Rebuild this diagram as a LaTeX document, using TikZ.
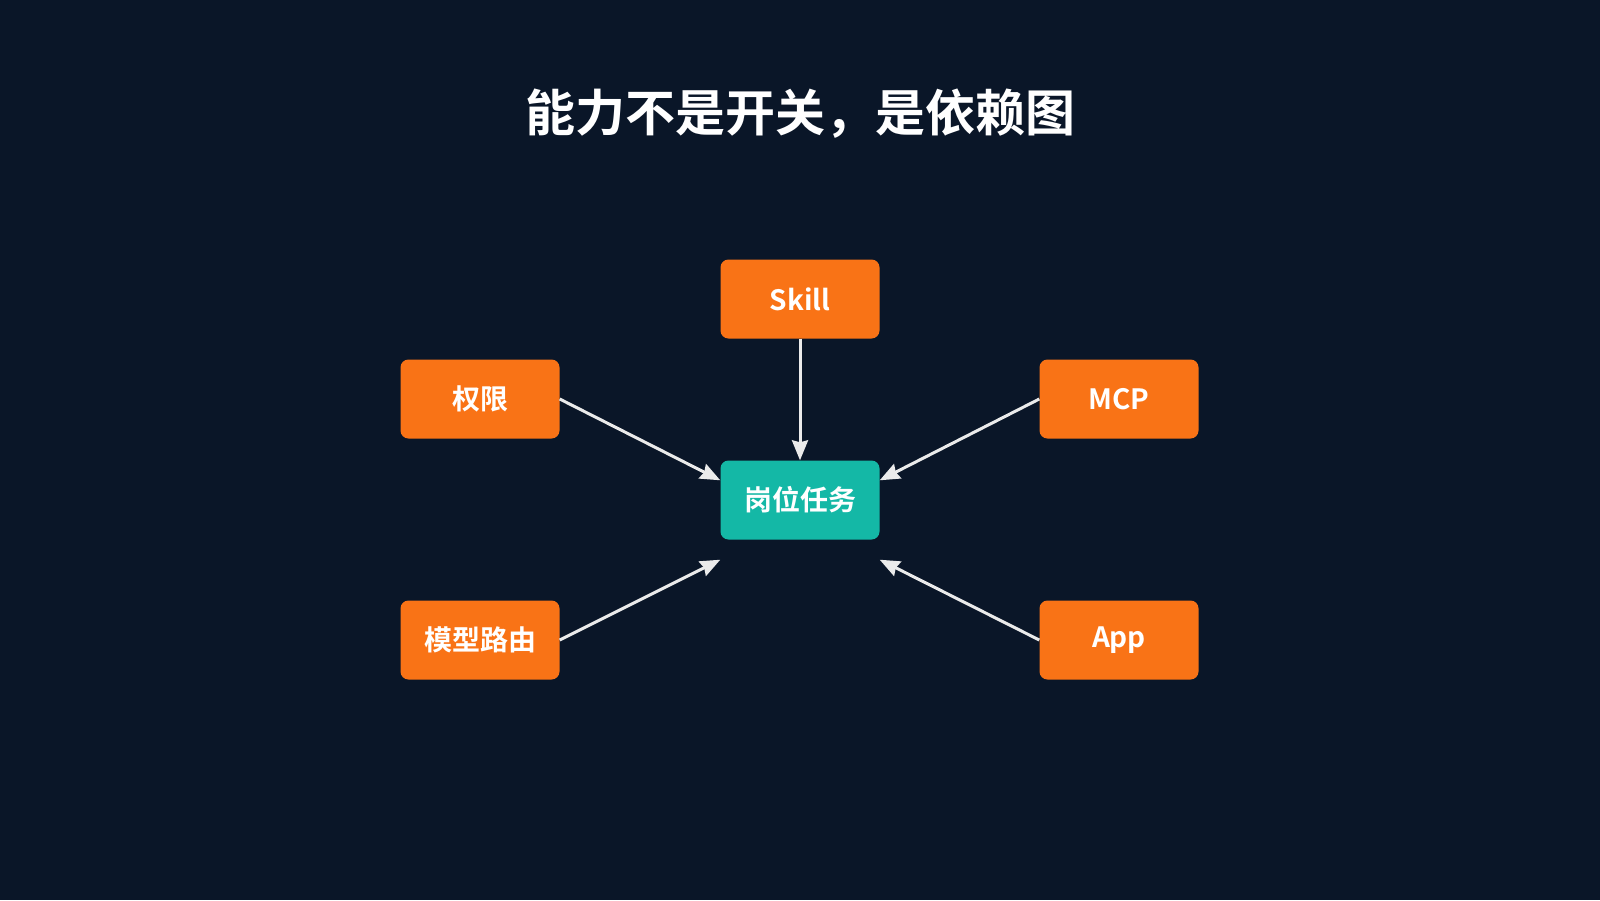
\documentclass[tikz,border=0pt]{standalone}
\usepackage{fontspec}
\setmainfont{Noto Sans CJK SC Bold}
\usetikzlibrary{arrows.meta}
\definecolor{bgdark}{HTML}{0A1628}
\definecolor{boxorange}{HTML}{F97316}
\definecolor{boxteal}{HTML}{14B8A6}
\tikzset{
  capbox/.style={draw=none, fill=boxorange, rounded corners=8pt, minimum width=159pt,
    minimum height=79pt, text=white, font=\fontsize{28}{30}\selectfont},
  task/.style={capbox, fill=boxteal},
  dep/.style={draw=white!92!black, line width=3pt, -{Stealth[length=20pt,width=16pt,inset=2pt]}}
}
\begin{document}
\begin{tikzpicture}[x=1pt, y=-1pt]
  \fill[bgdark] (0,0) rectangle (1600,900);
  \useasboundingbox (0,0) rectangle (1600,900);
  % title
  \node[text=white, font=\fontsize{50}{54}\selectfont] (title) at (800,114) {能力不是开关，是依赖图};
  % nodes
  \node[capbox] (skill) at (800,299) {Skill};
  \node[capbox] (perm) at (480,399) {权限};
  \node[capbox] (mcp) at (1119,399) {MCP};
  \node[capbox] (route) at (480,640) {模型路由};
  \node[capbox] (app) at (1119,640) {App};
  \node[task] (job) at (800,500) {岗位任务};
  % free ends below the task box
  \coordinate (jobsw) at ([yshift=-20pt]job.south west);
  \coordinate (jobse) at ([yshift=-20pt]job.south east);
  % dependencies
  \draw[dep] (skill.south) -- (job.north);
  \draw[dep] (perm.east) -- ([yshift=-20pt]job.north west);
  \draw[dep] (mcp.west) -- ([yshift=-20pt]job.north east);
  \draw[dep] (route.east) -- (jobsw);
  \draw[dep] (app.west) -- (jobse);
\end{tikzpicture}
\end{document}
